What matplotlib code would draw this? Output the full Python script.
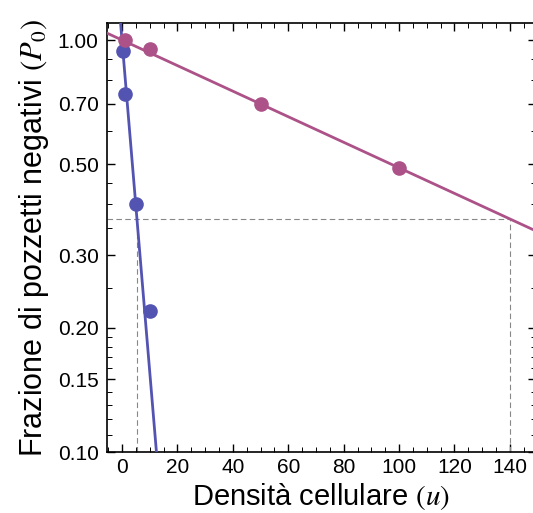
import numpy as np
import matplotlib as mpl
mpl.use('Agg')
import matplotlib.pyplot as plt
from matplotlib.ticker import FixedLocator, FixedFormatter, NullFormatter

plt.rcParams['font.family'] = ['Liberation Sans', 'DejaVu Sans']
plt.rcParams['mathtext.fontset'] = 'stix'

u_blu = [0.5, 1, 5, 10]
p0_blu = [0.94, 0.74, 0.40, 0.22]
u_viola = [1, 10, 50, 100]
p0_viola = [1.00, 0.95, 0.70, 0.49]

# rette di fit: P0 = exp(-u / k)
k_blu = 5.4
k_viola = 140.0

yticks = [0.10, 0.15, 0.20, 0.30, 0.50, 0.70, 1.00]
yminor = [0.11, 0.12, 0.13, 0.14, 0.16, 0.17, 0.18, 0.19, 0.25, 0.35, 0.4, 0.45, 0.6, 0.8, 0.9]

blu = '#5353b2'
viola = '#ac5288'

fig = plt.figure(figsize=(5.33, 5.13), dpi=100)
ax = fig.add_axes([0.2008, 0.1189, 0.8042, 0.8363])

xmin, xmax = -5.4, 149.3
u = np.linspace(xmin, xmax, 2000)

ax.plot(u, np.exp(-u / k_blu), color=blu, lw=2.0, zorder=3)
ax.plot(u, np.exp(-u / k_viola), color=viola, lw=2.0, zorder=3)
ax.plot(u_blu, p0_blu, 'o', color=blu, ms=9.5, zorder=4)
ax.plot(u_viola, p0_viola, 'o', color=viola, ms=9.5, zorder=4)

# linee tratteggiate a P0 = 1/e
e1 = np.exp(-1)
ax.plot([xmin, k_viola], [e1, e1], ls=(0, (5, 3)), color='#888888', lw=0.8, zorder=2)
ax.plot([k_blu, k_blu], [0.1, e1], ls=(0, (5, 3)), color='#888888', lw=0.8, zorder=2)
ax.plot([k_viola, k_viola], [0.1, e1], ls=(0, (5, 3)), color='#888888', lw=0.8, zorder=2)

ax.set_yscale('log')
ax.set_xlim(xmin, xmax)
ax.set_ylim(0.1, 1.1)

ax.yaxis.set_major_locator(FixedLocator(yticks))
ax.yaxis.set_major_formatter(FixedFormatter(['%.2f' % v for v in yticks]))
ax.yaxis.set_minor_locator(FixedLocator(yminor))
ax.yaxis.set_minor_formatter(NullFormatter())
ax.set_xticks(np.arange(0, 141, 20))
ax.set_xticks(np.arange(-5, 150, 5), minor=True)

ax.tick_params(which='both', direction='in', top=True, right=True, labelsize=15)
ax.tick_params(which='major', length=6, width=1)
ax.tick_params(which='minor', length=3.5, width=0.7)
ax.tick_params(axis='y', pad=6)
ax.tick_params(axis='x', pad=4)
for s in ax.spines.values():
    s.set_linewidth(1.2)

ax.set_xlabel(r'Densità cellulare $(u)$', fontsize=21, labelpad=3)
ax.set_ylabel(r'Frazione di pozzetti negativi $(P_0)$', fontsize=22, labelpad=5)

fig.savefig('out.png', dpi=100)
